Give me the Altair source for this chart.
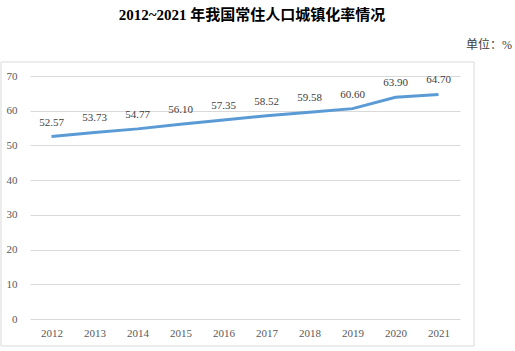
import altair as alt
import pandas as pd

years = ["2012", "2013", "2014", "2015", "2016", "2017", "2018", "2019", "2020", "2021"]
rates = [52.57, 53.73, 54.77, 56.10, 57.35, 58.52, 59.58, 60.60, 63.90, 64.70]
labels = ["52.57", "53.73", "54.77", "56.10", "57.35", "58.52", "59.58", "60.60", "63.90", "64.70"]
y_ticks = [0, 10, 20, 30, 40, 50, 60, 70]
title_text = "2012~2021 年我国常住人口城镇化率情况"
unit_text = "单位：%"

df = pd.DataFrame({"year": years, "rate": rates, "label": labels})

serif = "Liberation Serif"
x_enc = alt.X("year:N", sort=years, scale=alt.Scale(paddingInner=0, paddingOuter=0),
              axis=alt.Axis(title=None, domain=False, ticks=False, labelAngle=0,
                            labelFont=serif, labelFontSize=11, labelColor="#595959",
                            labelPadding=8, grid=False))
y_enc = alt.Y("rate:Q", scale=alt.Scale(domain=[0, 70], nice=False, zero=True),
              axis=alt.Axis(title=None, values=y_ticks, tickCount=8, domain=False, ticks=False,
                            labelOverlap=False, labelFont=serif, labelFontSize=11,
                            labelColor="#595959", labelPadding=13, grid=True,
                            gridColor="#d9d9d9", gridWidth=1))

base = alt.Chart(df)

line = base.mark_line(color="#5B9BD5", strokeWidth=3).encode(x=x_enc, y=y_enc)

text = base.mark_text(dy=-14, font=serif, fontSize=11, color="#404040").encode(
    x=x_enc, y=y_enc, text="label:N")

border = base.mark_rect(fill=None, stroke="#d9d9d9", strokeWidth=1).encode(
    x=alt.value(-29), x2=alt.value(444), y=alt.value(-14), y2=alt.value(270)
).transform_filter("datum.year == '2012'")

title = base.mark_text(font="Liberation Serif, Noto Sans CJK SC", fontSize=15, fontWeight="bold",
                       color="#000000").encode(
    x=alt.value(222), y=alt.value(-61), text=alt.value(title_text)
).transform_filter("datum.year == '2012'")

unit = base.mark_text(font="Liberation Serif, Noto Sans CJK SC", fontSize=12, color="#404040",
                      align="right").encode(
    x=alt.value(482), y=alt.value(-31), text=alt.value(unit_text)
).transform_filter("datum.year == '2012'")

chart = alt.layer(line, text, border, title, unit).properties(
    width=430, height=243,
    padding={"left": 30, "top": 76, "right": 55, "bottom": 32},
    autosize=alt.AutoSizeParams(type="none"),
).configure_view(stroke=None)

chart.save("out.html", embed_options={"renderer": "svg", "actions": False})
